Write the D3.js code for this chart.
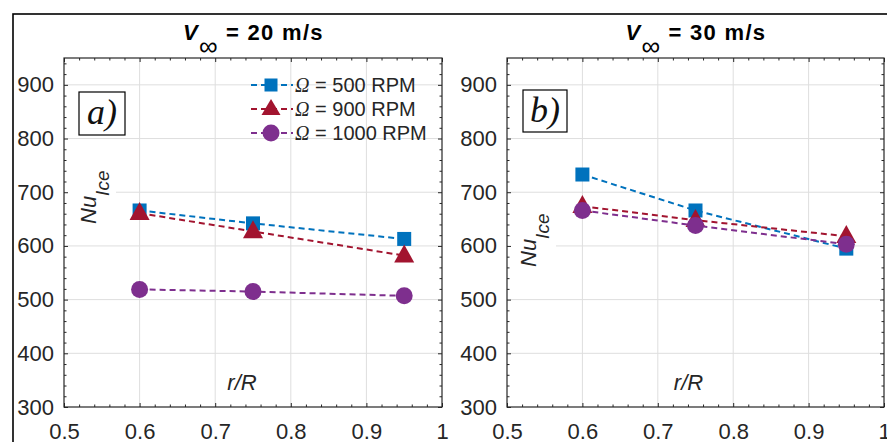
<!DOCTYPE html>
<html><head><meta charset="utf-8">
<script src="https://cdn.jsdelivr.net/npm/d3@7"></script>
<style>body{margin:0;background:#fff} svg{display:block}</style>
</head><body><svg id="c" width="887" height="442"></svg>
<script>
// ---- data ----
const xTicks = [0.5, 0.6, 0.7, 0.8, 0.9, 1];
const yTicks = [300, 400, 500, 600, 700, 800, 900];
const rR = [0.6, 0.75, 0.95];
const rpmLabels = ["500", "900", "1000"];
const a500 = [666, 642, 613];
const a900 = [661, 627, 582];
const a1000 = [519, 515, 507];
const b500 = [733, 666, 595];
const b900 = [674, 648, 618];
const b1000 = [666, 638, 603];
const speeds = ["20", "30"];
const panelTags = ["a)", "b)"];

// ---- style / layout ----
const colors = ["#0072BD", "#A2142F", "#7E2F8E"];
const shapes = ["square", "triangle", "circle"];
const SANS = "'Liberation Sans', Arial, sans-serif";
const SERIF = "'Liberation Serif', 'Times New Roman', serif";
const AX = "#262626";
const GRID = "#dedede";

const panels = [
  {L: 64, R: 442, T: 58, B: 407, series: [a500, a900, a1000], speed: speeds[0], tag: panelTags[0],
   tagBox: [79, 92, 46, 43], ylab: [96, 224], legend: true},
  {L: 507, R: 884, T: 58, B: 407, series: [b500, b900, b1000], speed: speeds[1], tag: panelTags[1],
   tagBox: [523, 90, 44, 42], ylab: [536, 267], legend: false}
];

const svg = d3.select("#c");
svg.append("rect").attr("width", 887).attr("height", 442).attr("fill", "#fff");
svg.append("rect").attr("x", 13).attr("y", 14).attr("width", 900).attr("height", 460)
  .attr("fill", "none").attr("stroke", "#000").attr("stroke-width", 1.6);

function marker(g, shape, x, y, color, s) {
  if (shape === "square") {
    g.append("rect").attr("x", x - s.sq / 2).attr("y", y - s.sq / 2).attr("width", s.sq).attr("height", s.sq).attr("fill", color);
  } else if (shape === "triangle") {
    const w = s.tw, h = s.th;
    g.append("path").attr("d", `M${x},${y - h * 0.62}L${x + w / 2},${y + h * 0.38}L${x - w / 2},${y + h * 0.38}Z`).attr("fill", color);
  } else {
    g.append("circle").attr("cx", x).attr("cy", y).attr("r", s.r).attr("fill", color);
  }
}

const xMinor = d3.range(0.5, 1.0001, 0.02).filter(v => Math.abs(Math.round(v * 10) - v * 10) > 1e-6);
const yMinor = d3.range(300, 951, 20).filter(v => v % 100 !== 0);

panels.forEach(p => {
  const x = d3.scaleLinear().domain([0.5, 1]).range([p.L, p.R]);
  const y = d3.scaleLinear().domain([300, 950]).range([p.B, p.T]);
  const g = svg.append("g");

  // grid
  g.selectAll(".vg").data(xTicks.slice(1, -1)).enter().append("line")
    .attr("x1", d => x(d)).attr("x2", d => x(d)).attr("y1", p.T).attr("y2", p.B)
    .attr("stroke", GRID).attr("stroke-width", 1);
  g.selectAll(".hg").data(yTicks.slice(1)).enter().append("line")
    .attr("y1", d => y(d)).attr("y2", d => y(d)).attr("x1", p.L).attr("x2", p.R)
    .attr("stroke", GRID).attr("stroke-width", 1);

  // y label with white background
  const lbg = g.append("rect").attr("fill", "#fff");
  const lab = g.append("text").attr("transform", `translate(${p.ylab[0]},${p.ylab[1]}) rotate(-90)`)
    .attr("font-family", SANS).attr("font-style", "italic").attr("font-size", 22).attr("fill", AX);
  lab.append("tspan").text("Nu");
  lab.append("tspan").attr("dy", 13).attr("font-size", 19).text("Ice");
  const bb = lab.node().getBBox();
  // bbox in rotated frame: x along text, y across
  const x0 = p.ylab[0] + bb.y, x1 = p.ylab[0] + bb.y + bb.height;
  const y0 = p.ylab[1] - bb.x - bb.width, y1 = p.ylab[1] - bb.x;
  lbg.attr("x", p.L + 1).attr("y", y0 - 4).attr("width", x1 + 3 - p.L - 1).attr("height", y1 - y0 + 8);

  // x-axis label
  g.append("text").attr("x", (p.L + p.R) / 2 - 11 + (p.legend ? 0 : 4)).attr("y", 390)
    .attr("text-anchor", "middle").attr("font-family", SANS).attr("font-style", "italic")
    .attr("font-size", 22).attr("fill", AX).text("r/R");

  // series
  const ms = {sq: 14, tw: 20, th: 18, r: 8.5};
  p.series.forEach((vals, i) => {
    const pts = rR.map((r, j) => [x(r), y(vals[j])]);
    g.append("path").attr("d", d3.line()(pts)).attr("fill", "none")
      .attr("stroke", colors[i]).attr("stroke-width", 2).attr("stroke-dasharray", "6,4");
    pts.forEach(pt => marker(g, shapes[i], pt[0], pt[1], colors[i], ms));
  });

  // axes
  const fmtX = d => (d === 1 ? "1" : d3.format(".1f")(d));
  const styleAxis = (sel) => {
    sel.select(".domain").remove();
    sel.selectAll("line").attr("stroke", AX);
    sel.selectAll("text").attr("font-family", SANS).attr("font-size", 22).attr("fill", AX);
  };
  g.append("g").attr("transform", `translate(0,${p.B})`)
    .call(d3.axisBottom(x).tickValues(xTicks).tickFormat(fmtX).tickSize(-4).tickPadding(16)).call(styleAxis);
  g.append("g").attr("transform", `translate(0,${p.B})`)
    .call(d3.axisBottom(x).tickValues(xMinor).tickFormat("").tickSize(-2.5)).call(styleAxis);
  g.append("g").attr("transform", `translate(0,${p.T})`)
    .call(d3.axisTop(x).tickValues(xTicks).tickFormat("").tickSize(-4)).call(styleAxis);
  g.append("g").attr("transform", `translate(0,${p.T})`)
    .call(d3.axisTop(x).tickValues(xMinor).tickFormat("").tickSize(-2.5)).call(styleAxis);
  g.append("g").attr("transform", `translate(${p.L},0)`)
    .call(d3.axisLeft(y).tickValues(yTicks).tickFormat(d3.format("d")).tickSize(-4).tickPadding(10)).call(styleAxis);
  g.append("g").attr("transform", `translate(${p.L},0)`)
    .call(d3.axisLeft(y).tickValues(yMinor).tickFormat("").tickSize(-2.5)).call(styleAxis);
  g.append("g").attr("transform", `translate(${p.R},0)`)
    .call(d3.axisRight(y).tickValues(yTicks).tickFormat("").tickSize(-4)).call(styleAxis);
  g.append("g").attr("transform", `translate(${p.R},0)`)
    .call(d3.axisRight(y).tickValues(yMinor).tickFormat("").tickSize(-2.5)).call(styleAxis);
  g.append("rect").attr("x", p.L).attr("y", p.T).attr("width", p.R - p.L).attr("height", p.B - p.T)
    .attr("fill", "none").attr("stroke", AX).attr("stroke-width", 1.2);

  // title
  const cx = (p.L + p.R) / 2;
  g.append("text").attr("x", cx - 70).attr("y", 40).attr("font-family", SANS).attr("font-weight", "bold")
    .attr("font-style", "italic").attr("font-size", 22).attr("fill", "#000").text("V");
  g.append("text").attr("x", cx - 54).attr("y", 55).attr("font-family", SANS)
    .attr("font-size", 26).attr("fill", "#000").text("\u221E");
  g.append("text").attr("x", cx - 27).attr("y", 40).attr("font-family", SANS).attr("font-weight", "bold")
    .attr("font-size", 22).attr("letter-spacing", 1.3).attr("fill", "#000").text(`= ${p.speed} m/s`);

  // tag box
  g.append("rect").attr("x", p.tagBox[0]).attr("y", p.tagBox[1]).attr("width", p.tagBox[2]).attr("height", p.tagBox[3])
    .attr("fill", "#fff").attr("stroke", "#000").attr("stroke-width", 1.2);
  g.append("text").attr("x", p.tagBox[0] + p.tagBox[2] / 2).attr("y", p.tagBox[1] + 32)
    .attr("text-anchor", "middle").attr("font-family", SERIF).attr("font-style", "italic")
    .attr("font-size", 36).attr("fill", "#111").text(p.tag);

  // legend
  if (p.legend) {
    const rows = [85, 109, 133];
    rows.forEach((ry, i) => {
      g.append("line").attr("x1", 250).attr("x2", 293).attr("y1", ry).attr("y2", ry)
        .attr("stroke", colors[i]).attr("stroke-width", 2).attr("stroke-dasharray", "6,4").attr("stroke-dashoffset", -1);
      marker(g, shapes[i], 271, ry, colors[i], {sq: 13, tw: 19, th: 16, r: 8.5});
      const t = g.append("text").attr("x", 295).attr("y", ry + 7).attr("font-family", SANS)
        .attr("font-size", 20).attr("fill", AX);
      t.append("tspan").attr("font-family", SERIF).attr("font-style", "italic").text("\u03A9");
      t.append("tspan").text(` = ${rpmLabels[i]} RPM`);
    });
  }
});
</script></body></html>
